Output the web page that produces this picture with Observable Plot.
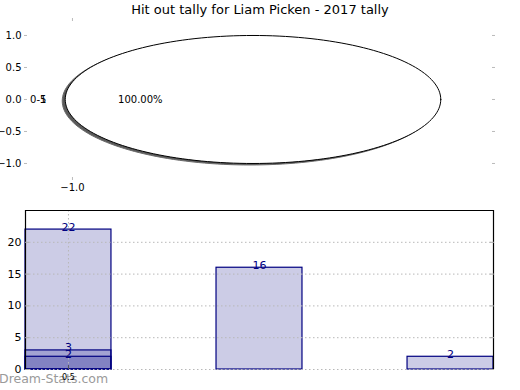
<!DOCTYPE html>
<html><head><meta charset="utf-8">
<script src="https://cdn.jsdelivr.net/npm/d3@7"></script>
<script src="https://cdn.jsdelivr.net/npm/@observablehq/plot@0.6"></script>
<style>
body{margin:0;background:#fff;font-family:"DejaVu Sans",sans-serif;}
#wrap{position:relative;width:520px;height:390px;overflow:hidden;background:#fff;}
#title{position:absolute;top:2px;left:0;width:520px;text-align:center;font-size:13px;color:#000;}
#pie{position:absolute;top:0;left:0;}
#bars{position:absolute;top:195px;left:0;}
#wm{position:absolute;left:-1px;top:371px;font-size:12.5px;color:#9a9a9a;font-weight:normal;}
</style></head>
<body><div id="wrap"><div id="wm"></div><div id="pie"></div><div id="bars"></div><div id="title"></div></div>
<script>
// ---- data ----
const chartTitle = "Hit out tally for Liam Picken - 2017 tally";
const pieLabels = ["0-5"];
const pieValues = [40];
const pieStrayLabels = ["1"];
const pieYTicks = [-1.0, -0.5, 0.0, 0.5, 1.0];
const pieXTicks = [-1.0];
const barPositions = [0.5, 1.5, 2.5];
const barValues = [22, 16, 2];
const overlayPositions = [0.5, 0.5];
const overlayValues = [3, 2];
const barYTicks = [0, 5, 10, 15, 20];
const barXTicks = [0.5];
const watermark = "Dream-Stats.com";

document.getElementById("title").textContent = chartTitle;
document.getElementById("wm").textContent = watermark;

// ---- pie ----
const R = 1.04; // horizontal radius (style)
const total = d3.sum(pieValues);
let start = 0;
const slices = pieValues.map((v, i) => {
  const a0 = start, a1 = start + 2 * Math.PI * v / total;
  start = a1;
  return {label: pieLabels[i], value: v, a0, a1, mid: (a0 + a1) / 2, pct: v / total};
});
const slicePts = [];
slices.forEach((s, i) => {
  const n = 180;
  const full = (s.a1 - s.a0) >= 2 * Math.PI - 1e-9;
  if (!full) slicePts.push({k: i, x: 0, y: 0});
  for (let j = 0; j <= n; j++) {
    const a = s.a0 + (s.a1 - s.a0) * j / n;
    slicePts.push({k: i, x: R * Math.cos(a), y: Math.sin(a)});
  }
});
const pieText = slices.map(s => ({x: 1.1 * R * Math.cos(s.mid), y: 1.1 * Math.sin(s.mid), t: s.label}));
const strayText = pieStrayLabels.map(t => ({x: pieText[0].x, y: pieText[0].y, t}));
const pctText = slices.map(s => ({x: 0.6 * R * Math.cos(s.mid), y: 0.6 * Math.sin(s.mid), t: (s.pct * 100).toFixed(2) + "%"}));

const f1 = d3.format(".1f");
const pie = Plot.plot({
  width: 520, height: 195,
  marginLeft: 27, marginRight: 29, marginTop: 20, marginBottom: 18,
  x: {domain: [-1.249, 1.321]},
  y: {domain: [-1.219, 1.234]},
  style: {fontFamily: "DejaVu Sans", fontSize: "10px", background: "transparent", overflow: "visible", color: "black"},
  marks: [
    Plot.line(slicePts, {x: "x", y: "y", z: "k", curve: "linear-closed", fill: "#5a5a5a", stroke: "#6a6a6a", strokeWidth: 1, dx: -3, dy: 1.5}),
    Plot.line(slicePts, {x: "x", y: "y", z: "k", curve: "linear-closed", fill: "white", stroke: "black", strokeWidth: 1}),
    Plot.text(pieText, {x: "x", y: "y", text: "t", textAnchor: "end", fill: "black", fontSize: 10}),
    Plot.text(strayText, {x: "x", y: "y", text: "t", textAnchor: "end", fill: "black", fontSize: 10}),
    Plot.text(pctText, {x: "x", y: "y", text: "t", textAnchor: "middle", fill: "black", fontSize: 10}),
    Plot.axisY({anchor: "left", ticks: pieYTicks, tickFormat: f1, tickSize: 3, tickPadding: 3, stroke: "#bbb", fill: "black", label: null}),
    Plot.axisY({anchor: "right", ticks: pieYTicks, tickFormat: () => "", tickSize: 3, stroke: "#bbb", label: null}),
    Plot.axisX({anchor: "bottom", ticks: pieXTicks, tickFormat: f1, tickSize: 3, tickPadding: 3, stroke: "#bbb", fill: "black", label: null}),
    Plot.axisX({anchor: "top", ticks: pieXTicks, tickFormat: () => "", tickSize: 3, stroke: "#bbb", label: null})
  ]
});
document.getElementById("pie").appendChild(pie);

// ---- bars ----
const halfW = 0.225;
const bars = barPositions.map((p, i) => ({p, v: barValues[i]}));
const overlays = overlayPositions.map((p, i) => ({p, v: overlayValues[i]}));
const allLabels = bars.concat(overlays);
const bar = Plot.plot({
  width: 520, height: 195,
  marginLeft: 25, marginRight: 27, marginTop: 15, marginBottom: 21,
  x: {domain: [0.275, 2.725]},
  y: {domain: [0, 25]},
  style: {fontFamily: "DejaVu Sans", fontSize: "10px", background: "transparent", overflow: "visible", color: "black"},
  marks: [
    Plot.rect(bars, {x1: d => d.p - halfW, x2: d => d.p + halfW, y1: 0, y2: "v", fill: "navy", fillOpacity: 0.2, stroke: "navy", strokeWidth: 1.2}),
    Plot.rect(overlays, {x1: d => d.p - halfW, x2: d => d.p + halfW, y1: 0, y2: "v", fill: "navy", fillOpacity: 0.2, stroke: "navy", strokeWidth: 1.2}),
    Plot.gridY(barYTicks, {stroke: "#b8b8b8", strokeOpacity: 1, strokeDasharray: "1.5,2.5", strokeWidth: 1}),
    Plot.gridX(barXTicks, {stroke: "#b8b8b8", strokeOpacity: 1, strokeDasharray: "1.5,2.5", strokeWidth: 1}),
    Plot.ruleX([0.275, 2.725], {stroke: "black", strokeWidth: 1.2}),
    Plot.ruleY([25], {stroke: "black", strokeWidth: 1.2}),
    Plot.text(allLabels, {x: "p", y: "v", text: d => String(d.v), lineAnchor: "bottom", dy: 1, fill: "navy", fontSize: 11}),
    Plot.axisY({anchor: "left", ticks: barYTicks, tickSize: 0, tickPadding: 4, fill: "black", label: null, fontSize: 11}),
    Plot.axisY({anchor: "left", ticks: barYTicks, tickSize: -4, tickFormat: () => "", stroke: "#aaa", label: null}),
    Plot.axisY({anchor: "right", ticks: barYTicks, tickSize: -4, tickFormat: () => "", stroke: "#aaa", label: null}),
    Plot.axisX({anchor: "bottom", ticks: barXTicks, tickSize: -4, tickPadding: 9, tickFormat: d3.format(".1f"), stroke: "#555", fill: "black", label: null, fontSize: 8})
  ]
});
document.getElementById("bars").appendChild(bar);
</script>
</body></html>
